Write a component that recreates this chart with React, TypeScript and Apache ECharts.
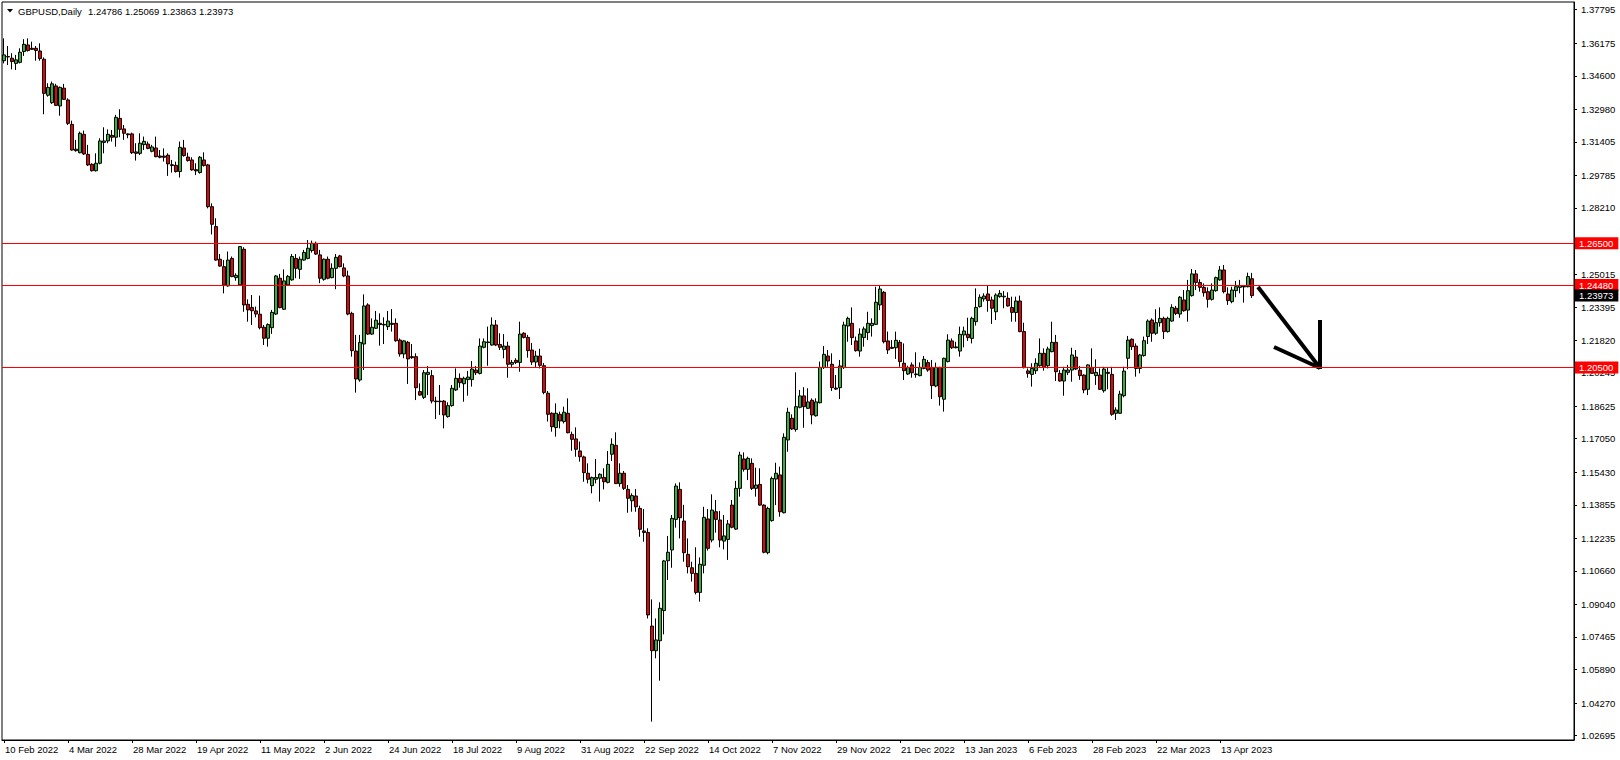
import React, { useEffect, useRef } from "react";
import * as echarts from "echarts";

// ---------- DATA ----------
const SYMBOL = "GBPUSD,Daily";
const LAST_OHLC = ["1.24786", "1.25069", "1.23863", "1.23973"];
const FIRST_DAY = "2022-02-10";
const SKIPPED_DAYS = ["2022-12-26"];
const LABEL_EVERY = 16;
const FUTURE_SLOTS = 80;
const MONTHS = ["Jan", "Feb", "Mar", "Apr", "May", "Jun", "Jul", "Aug", "Sep", "Oct", "Nov", "Dec"];

// candles: [open, close, low, high]
const feb_may2022 = [
  [1.3533, 1.3561, 1.3520, 1.3641], [1.3553, 1.3551, 1.3512, 1.3604], [1.3545, 1.3529, 1.3491, 1.3569],
  [1.3520, 1.3537, 1.3488, 1.3561], [1.3525, 1.3574, 1.3520, 1.3593], [1.3577, 1.3612, 1.3556, 1.3637],
  [1.3609, 1.3582, 1.3577, 1.3641], [1.3593, 1.3588, 1.3585, 1.3625], [1.3593, 1.3582, 1.3533, 1.3604],
  [1.3580, 1.3543, 1.3533, 1.3617], [1.3540, 1.3375, 1.3274, 1.3549], [1.3366, 1.3404, 1.3359, 1.3424],
  [1.3330, 1.3421, 1.3324, 1.3432], [1.3411, 1.3317, 1.3314, 1.3421], [1.3314, 1.3404, 1.3267, 1.3408],
  [1.3400, 1.3346, 1.3343, 1.3421], [1.3343, 1.3230, 1.3222, 1.3351], [1.3225, 1.3101, 1.3098, 1.3243],
  [1.3105, 1.3098, 1.3093, 1.3150], [1.3088, 1.3182, 1.3085, 1.3190], [1.3177, 1.3082, 1.3077, 1.3195],
  [1.3080, 1.3029, 1.3024, 1.3126], [1.3032, 1.3001, 1.2997, 1.3037], [1.3001, 1.3037, 1.2997, 1.3085],
  [1.3037, 1.3145, 1.3032, 1.3158], [1.3138, 1.3145, 1.3085, 1.3211], [1.3145, 1.3177, 1.3134, 1.3201],
  [1.3172, 1.3163, 1.3142, 1.3198], [1.3163, 1.3259, 1.3117, 1.3271], [1.3254, 1.3201, 1.3163, 1.3298],
  [1.3203, 1.3182, 1.3150, 1.3222], [1.3179, 1.3175, 1.3158, 1.3182], [1.3179, 1.3088, 1.3082, 1.3185],
  [1.3092, 1.3085, 1.3050, 1.3134], [1.3085, 1.3134, 1.3077, 1.3182], [1.3127, 1.3143, 1.3101, 1.3166],
  [1.3130, 1.3109, 1.3105, 1.3142], [1.3095, 1.3116, 1.3090, 1.3126], [1.3111, 1.3069, 1.3066, 1.3166],
  [1.3072, 1.3066, 1.3061, 1.3101], [1.3072, 1.3066, 1.3045, 1.3109], [1.3076, 1.3034, 1.2976, 1.3085],
  [1.3030, 1.3026, 1.2992, 1.3053], [1.3027, 1.2997, 1.2992, 1.3045], [1.2997, 1.3114, 1.2968, 1.3142],
  [1.3111, 1.3074, 1.3069, 1.3150], [1.3067, 1.3050, 1.3045, 1.3088], [1.3053, 1.3005, 1.3001, 1.3066],
  [1.3006, 1.3000, 1.2980, 1.3037], [1.2992, 1.3066, 1.2987, 1.3072], [1.3053, 1.3026, 1.3021, 1.3090],
  [1.3029, 1.2827, 1.2819, 1.3034], [1.2827, 1.2742, 1.2693, 1.2843], [1.2731, 1.2569, 1.2566, 1.2771],
  [1.2573, 1.2540, 1.2537, 1.2598], [1.2537, 1.2449, 1.2408, 1.2569], [1.2444, 1.2569, 1.2440, 1.2610],
  [1.2577, 1.2489, 1.2486, 1.2586], [1.2484, 1.2495, 1.2469, 1.2505], [1.2449, 1.2634, 1.2445, 1.2637],
];

const may_jul2022 = [
  [1.2621, 1.2352, 1.2319, 1.2631], [1.2355, 1.2328, 1.2271, 1.2379], [1.2340, 1.2324, 1.2255, 1.2400],
  [1.2323, 1.2308, 1.2292, 1.2344], [1.2307, 1.2242, 1.2234, 1.2397], [1.2244, 1.2191, 1.2158, 1.2255],
  [1.2191, 1.2257, 1.2150, 1.2263], [1.2242, 1.2316, 1.2212, 1.2328], [1.2308, 1.2492, 1.2303, 1.2497],
  [1.2481, 1.2339, 1.2336, 1.2502], [1.2331, 1.2468, 1.2328, 1.2524], [1.2449, 1.2490, 1.2445, 1.2497],
  [1.2473, 1.2586, 1.2469, 1.2598], [1.2577, 1.2529, 1.2481, 1.2598], [1.2524, 1.2573, 1.2478, 1.2586],
  [1.2569, 1.2606, 1.2566, 1.2618], [1.2577, 1.2626, 1.2573, 1.2666], [1.2615, 1.2650, 1.2605, 1.2663],
  [1.2650, 1.2598, 1.2594, 1.2658], [1.2594, 1.2481, 1.2457, 1.2618], [1.2476, 1.2573, 1.2469, 1.2577],
  [1.2573, 1.2481, 1.2476, 1.2586], [1.2484, 1.2529, 1.2481, 1.2553], [1.2529, 1.2582, 1.2428, 1.2598],
  [1.2589, 1.2537, 1.2534, 1.2594], [1.2531, 1.2492, 1.2486, 1.2553], [1.2492, 1.2308, 1.2302, 1.2518],
  [1.2311, 1.2131, 1.2102, 1.2319], [1.2129, 1.1994, 1.1928, 1.2207], [1.1989, 1.2171, 1.1981, 1.2207],
  [1.2163, 1.2347, 1.2037, 1.2403], [1.2352, 1.2211, 1.2207, 1.2360], [1.2211, 1.2244, 1.2207, 1.2287],
  [1.2239, 1.2278, 1.2236, 1.2323], [1.2263, 1.2257, 1.2155, 1.2311], [1.2258, 1.2255, 1.2163, 1.2292],
  [1.2247, 1.2274, 1.2231, 1.2323], [1.2263, 1.2258, 1.2223, 1.2332], [1.2263, 1.2179, 1.2174, 1.2287],
  [1.2182, 1.2115, 1.2102, 1.2190], [1.2115, 1.2178, 1.2094, 1.2182], [1.2171, 1.2091, 1.1970, 1.2178],
  [1.2102, 1.2097, 1.2091, 1.2163], [1.2102, 1.1952, 1.1892, 1.2118], [1.1933, 1.1916, 1.1913, 1.1973],
  [1.1905, 1.2024, 1.1897, 1.2037], [1.2016, 1.2026, 1.1916, 1.2057], [1.2010, 1.1887, 1.1876, 1.2037],
  [1.1887, 1.1884, 1.1800, 1.1908], [1.1887, 1.1884, 1.1820, 1.1965], [1.1887, 1.1820, 1.1755, 1.1892],
  [1.1812, 1.1865, 1.1807, 1.1881], [1.1865, 1.1949, 1.1860, 1.1965], [1.1941, 1.1997, 1.1936, 1.2045],
  [1.1997, 1.1976, 1.1952, 1.2021], [1.1971, 1.1997, 1.1884, 1.2005], [1.1991, 1.2003, 1.1913, 1.2033],
  [1.1991, 1.2042, 1.1957, 1.2081], [1.2037, 1.2024, 1.2013, 1.2057], [1.2021, 1.2153, 1.2016, 1.2190],
];

const aug_oct2022 = [
  [1.2147, 1.2174, 1.2142, 1.2190], [1.2173, 1.2170, 1.2058, 1.2247], [1.2158, 1.2255, 1.2155, 1.2292],
  [1.2255, 1.2158, 1.2153, 1.2279], [1.2161, 1.2147, 1.2134, 1.2215], [1.2137, 1.2153, 1.2094, 1.2211],
  [1.2153, 1.2065, 1.2000, 1.2174], [1.2065, 1.2074, 1.2049, 1.2086], [1.2084, 1.2074, 1.2066, 1.2094],
  [1.2074, 1.2211, 1.2029, 1.2271], [1.2215, 1.2195, 1.2190, 1.2220], [1.2195, 1.2131, 1.2097, 1.2207],
  [1.2134, 1.2076, 1.2062, 1.2168], [1.2076, 1.2105, 1.2050, 1.2130], [1.2105, 1.2060, 1.2045, 1.2140],
  [1.2058, 1.1929, 1.1920, 1.2071], [1.1925, 1.1823, 1.1788, 1.1936], [1.1828, 1.1763, 1.1739, 1.1833],
  [1.1759, 1.1828, 1.1715, 1.1876], [1.1823, 1.1791, 1.1755, 1.1836], [1.1788, 1.1833, 1.1779, 1.1860],
  [1.1828, 1.1734, 1.1731, 1.1900], [1.1726, 1.1702, 1.1647, 1.1739], [1.1704, 1.1654, 1.1618, 1.1760],
  [1.1646, 1.1618, 1.1594, 1.1691], [1.1617, 1.1541, 1.1497, 1.1623], [1.1538, 1.1509, 1.1489, 1.1586],
  [1.1478, 1.1517, 1.1441, 1.1522], [1.1509, 1.1518, 1.1489, 1.1607], [1.1514, 1.1533, 1.1401, 1.1538],
  [1.1518, 1.1497, 1.1460, 1.1562], [1.1494, 1.1581, 1.1489, 1.1646], [1.1630, 1.1678, 1.1597, 1.1707],
  [1.1673, 1.1488, 1.1486, 1.1736], [1.1488, 1.1538, 1.1473, 1.1586], [1.1538, 1.1465, 1.1457, 1.1549],
  [1.1460, 1.1417, 1.1347, 1.1481], [1.1405, 1.1430, 1.1352, 1.1441], [1.1428, 1.1376, 1.1352, 1.1462],
  [1.1368, 1.1267, 1.1231, 1.1381], [1.1259, 1.1252, 1.1207, 1.1365], [1.1252, 1.0853, 1.0836, 1.1272],
  [1.0799, 1.0680, 1.0337, 1.0928], [1.0680, 1.0732, 1.0643, 1.0836], [1.0728, 1.0885, 1.0535, 1.0914],
  [1.0874, 1.1114, 1.0759, 1.1119], [1.1115, 1.1156, 1.1022, 1.1235], [1.1167, 1.1320, 1.1081, 1.1336],
  [1.1315, 1.1476, 1.1275, 1.1489], [1.1460, 1.1323, 1.1223, 1.1494], [1.1307, 1.1154, 1.1110, 1.1385],
  [1.1146, 1.1086, 1.1054, 1.1223], [1.1081, 1.1054, 1.1014, 1.1110], [1.1054, 1.0962, 1.0952, 1.1180],
  [1.0962, 1.1098, 1.0917, 1.1131], [1.1093, 1.1325, 1.1054, 1.1376], [1.1317, 1.1175, 1.1164, 1.1365],
  [1.1215, 1.1360, 1.1204, 1.1436], [1.1352, 1.1315, 1.1251, 1.1409], [1.1312, 1.1215, 1.1180, 1.1356],
];

const oct2022_jan2023 = [
  [1.1210, 1.1235, 1.1170, 1.1336], [1.1218, 1.1293, 1.1119, 1.1312], [1.1384, 1.1277, 1.1272, 1.1409],
  [1.1268, 1.1465, 1.1264, 1.1501], [1.1465, 1.1626, 1.1425, 1.1642], [1.1607, 1.1557, 1.1546, 1.1639],
  [1.1557, 1.1610, 1.1505, 1.1618], [1.1586, 1.1465, 1.1457, 1.1610], [1.1465, 1.1481, 1.1425, 1.1565],
  [1.1484, 1.1384, 1.1381, 1.1562], [1.1384, 1.1156, 1.1151, 1.1388], [1.1154, 1.1368, 1.1146, 1.1376],
  [1.1309, 1.1513, 1.1304, 1.1522], [1.1510, 1.1538, 1.1384, 1.1589], [1.1530, 1.1352, 1.1328, 1.1570],
  [1.1347, 1.1712, 1.1344, 1.1731], [1.1699, 1.1833, 1.1642, 1.1855], [1.1804, 1.1752, 1.1747, 1.1823],
  [1.1750, 1.1860, 1.1739, 1.2026], [1.1857, 1.1912, 1.1852, 1.1941], [1.1912, 1.1860, 1.1758, 1.1954],
  [1.1852, 1.1883, 1.1849, 1.1949], [1.1891, 1.1820, 1.1775, 1.1900], [1.1816, 1.1883, 1.1812, 1.1900],
  [1.1879, 1.2050, 1.1876, 1.2078], [1.2049, 1.2113, 1.2042, 1.2153], [1.2105, 1.2081, 1.2053, 1.2134],
  [1.2065, 1.1952, 1.1936, 1.2118], [1.1950, 1.1945, 1.1941, 1.2013], [1.1952, 1.2057, 1.1897, 1.2086],
  [1.2049, 1.2255, 1.2042, 1.2271], [1.2250, 1.2287, 1.2174, 1.2295], [1.2263, 1.2194, 1.2158, 1.2340],
  [1.2178, 1.2131, 1.2126, 1.2199], [1.2129, 1.2211, 1.2102, 1.2239], [1.2194, 1.2236, 1.2150, 1.2247],
  [1.2218, 1.2263, 1.2182, 1.2319], [1.2252, 1.2263, 1.2199, 1.2287], [1.2258, 1.2365, 1.2255, 1.2440],
  [1.2352, 1.2429, 1.2327, 1.2445], [1.2413, 1.2174, 1.2166, 1.2419], [1.2178, 1.2134, 1.2115, 1.2223],
  [1.2147, 1.2142, 1.2139, 1.2182], [1.2145, 1.2181, 1.2091, 1.2223], [1.2171, 1.2078, 1.2053, 1.2182],
  [1.2070, 1.2034, 1.1989, 1.2166], [1.2018, 1.2049, 1.2013, 1.2058], [1.2062, 1.2024, 1.2000, 1.2074],
  [1.2018, 1.2015, 1.2000, 1.2123], [1.2010, 1.2050, 1.2007, 1.2074], [1.2045, 1.2089, 1.2041, 1.2105],
  [1.2073, 1.2037, 1.2029, 1.2086], [1.2050, 1.1962, 1.1897, 1.2086], [1.1960, 1.2050, 1.1954, 1.2073],
  [1.2050, 1.1908, 1.1865, 1.2053], [1.1896, 1.2094, 1.1836, 1.2097], [1.2078, 1.2182, 1.2074, 1.2210],
  [1.2178, 1.2145, 1.2139, 1.2190], [1.2149, 1.2145, 1.2142, 1.2174], [1.2129, 1.2210, 1.2102, 1.2247],
];

const jan_apr2023 = [
  [1.2207, 1.2226, 1.2147, 1.2247], [1.2210, 1.2194, 1.2178, 1.2290], [1.2190, 1.2287, 1.2166, 1.2295],
  [1.2271, 1.2340, 1.2252, 1.2432], [1.2344, 1.2389, 1.2339, 1.2403], [1.2381, 1.2395, 1.2368, 1.2408],
  [1.2405, 1.2373, 1.2319, 1.2445], [1.2376, 1.2336, 1.2260, 1.2392], [1.2319, 1.2400, 1.2279, 1.2408],
  [1.2392, 1.2408, 1.2387, 1.2424], [1.2394, 1.2391, 1.2336, 1.2419], [1.2384, 1.2347, 1.2344, 1.2413],
  [1.2340, 1.2316, 1.2271, 1.2392], [1.2315, 1.2371, 1.2271, 1.2392], [1.2371, 1.2223, 1.2220, 1.2397],
  [1.2223, 1.2049, 1.2045, 1.2266], [1.2033, 1.2021, 1.2000, 1.2045], [1.2016, 1.2045, 1.1957, 1.2070],
  [1.2034, 1.2070, 1.2018, 1.2094], [1.2058, 1.2118, 1.2053, 1.2190], [1.2118, 1.2050, 1.2034, 1.2142],
  [1.2058, 1.2139, 1.2045, 1.2150], [1.2126, 1.2171, 1.2123, 1.2271], [1.2171, 1.2029, 1.1984, 1.2207],
  [1.2021, 1.1984, 1.1981, 1.2037], [1.1984, 1.2037, 1.1913, 1.2053], [1.2026, 1.2037, 1.2013, 1.2062],
  [1.2037, 1.2110, 1.1981, 1.2145], [1.2100, 1.2042, 1.2037, 1.2134], [1.2036, 1.2010, 1.1990, 1.2057],
  [1.2013, 1.1941, 1.1925, 1.2016], [1.1944, 1.2062, 1.1916, 1.2065], [1.2050, 1.2021, 1.2018, 1.2142],
  [1.2010, 1.2026, 1.1965, 1.2089], [1.2013, 1.1944, 1.1941, 1.2045], [1.1937, 1.2042, 1.1928, 1.2053],
  [1.2026, 1.2021, 1.1944, 1.2050], [1.2016, 1.1823, 1.1816, 1.2053], [1.1828, 1.1844, 1.1796, 1.1857],
  [1.1828, 1.1921, 1.1825, 1.1937], [1.1913, 1.2032, 1.1905, 1.2053], [1.2094, 1.2182, 1.2041, 1.2202],
  [1.2186, 1.2150, 1.2134, 1.2190], [1.2153, 1.2045, 1.2005, 1.2166], [1.2045, 1.2110, 1.2021, 1.2115],
  [1.2107, 1.2179, 1.2102, 1.2199], [1.2199, 1.2274, 1.2163, 1.2282], [1.2279, 1.2215, 1.2174, 1.2287],
  [1.2215, 1.2266, 1.2207, 1.2331], [1.2266, 1.2287, 1.2247, 1.2340], [1.2287, 1.2223, 1.2187, 1.2295],
  [1.2223, 1.2287, 1.2218, 1.2295], [1.2274, 1.2340, 1.2271, 1.2355], [1.2336, 1.2311, 1.2303, 1.2347],
  [1.2308, 1.2389, 1.2290, 1.2395], [1.2376, 1.2324, 1.2319, 1.2424], [1.2327, 1.2421, 1.2271, 1.2473],
  [1.2397, 1.2502, 1.2392, 1.2526], [1.2502, 1.2461, 1.2424, 1.2521], [1.2460, 1.2437, 1.2416, 1.2476],
  [1.2437, 1.2411, 1.2392, 1.2456], [1.2416, 1.2379, 1.2339, 1.2437], [1.2379, 1.2424, 1.2373, 1.2456],
  [1.2421, 1.2484, 1.2416, 1.2489], [1.2473, 1.2521, 1.2469, 1.2540], [1.2521, 1.2416, 1.2408, 1.2545],
  [1.2405, 1.2373, 1.2352, 1.2437], [1.2368, 1.2424, 1.2360, 1.2440], [1.2421, 1.2440, 1.2389, 1.2468],
  [1.2437, 1.2445, 1.2408, 1.2473], [1.2442, 1.2439, 1.2363, 1.2448], [1.2440, 1.2489, 1.2437, 1.2508],
  [1.24786, 1.23973, 1.23863, 1.25069],
];

const Y_TICKS = [
  1.37795, 1.36175, 1.346, 1.3298, 1.31405, 1.29785, 1.2821, 1.2659, 1.25015, 1.23395, 1.2182, 1.20245,
  1.18625, 1.1705, 1.1543, 1.13855, 1.12235, 1.1066, 1.0904, 1.07465, 1.0589, 1.0427, 1.02695,
];
const Y_TICKS_HIDDEN = [1.2659];
const Y_MIN = 1.02482;
const Y_MAX = 1.38168;

const LEVELS = [1.265, 1.2448, 1.205];
const BID = 1.23973;

// ---------- STYLE ----------
const FONT = '"Liberation Sans", Arial, sans-serif';
const FS = 9.5;
const GREEN = "#2fb52f";
const RED = "#ee0000";

function buildDays(count: number): string[] {
  const out: string[] = [];
  const [y, m, d] = FIRST_DAY.split("-").map(Number);
  const cur = new Date(Date.UTC(y, m - 1, d));
  while (out.length < count) {
    const wd = cur.getUTCDay();
    const iso = cur.toISOString().slice(0, 10);
    if (wd !== 0 && wd !== 6 && !SKIPPED_DAYS.includes(iso)) {
      out.push(`${cur.getUTCDate()} ${MONTHS[cur.getUTCMonth()]} ${cur.getUTCFullYear()}`);
    }
    cur.setUTCDate(cur.getUTCDate() + 1);
  }
  return out;
}

export default function App() {
  const ref = useRef<HTMLDivElement>(null);
  useEffect(() => {
    if (!ref.current) return;
    const chart = echarts.init(ref.current, null, { renderer: "svg" });
    const candles = [...feb_may2022, ...may_jul2022, ...aug_oct2022, ...oct2022_jan2023, ...jan_apr2023];
    const days = buildDays(candles.length);
    const cats = [...days, ...new Array(FUTURE_SLOTS).fill("")];
    const showIdx = (i: number) => cats[i] !== "" && i % LABEL_EVERY === 0;

    const levelLabel = (v: number, bg: string) => ({
      show: true,
      position: "end",
      distance: 1,
      formatter: () => v.toFixed(5),
      color: "#fff",
      backgroundColor: bg,
      padding: [1, 5, 0, 4],
      fontFamily: FONT,
      fontSize: FS,
      lineHeight: 11,
    });

    chart.setOption({
      animation: false,
      backgroundColor: "#fff",
      grid: { left: 2, right: 46, top: 2, bottom: 20, show: true, borderColor: "#000", borderWidth: 1, backgroundColor: "#fff" },
      xAxis: {
        type: "category",
        data: cats,
        boundaryGap: true,
        axisLine: { show: true, lineStyle: { color: "#000", width: 1 } },
        axisTick: { show: true, alignWithLabel: true, interval: (i: number) => showIdx(i), length: 3, lineStyle: { color: "#000" } },
        axisLabel: {
          interval: (i: number) => showIdx(i),
          align: "left",
          margin: 4,
          padding: [0, 0, 0, 1],
          color: "#000",
          fontFamily: FONT,
          fontSize: FS,
        },
        splitLine: { show: false },
      },
      yAxis: {
        type: "value",
        position: "right",
        min: Y_MIN,
        max: Y_MAX,
        scale: true,
        axisLine: { show: true, lineStyle: { color: "#000", width: 1 } },
        axisTick: { show: true, length: 3, customValues: Y_TICKS, lineStyle: { color: "#000" } },
        axisLabel: {
          customValues: Y_TICKS.filter((v) => !Y_TICKS_HIDDEN.includes(v)),
          formatter: (v: number) => v.toFixed(5),
          margin: 7,
          color: "#000",
          fontFamily: FONT,
          fontSize: FS,
        },
        splitLine: { show: false },
      },
      graphic: [
        { type: "polygon", shape: { points: [[7, 9], [13, 9], [10, 12.5]] }, style: { fill: "#000" } },
        { type: "text", x: 18, y: 11, style: { text: SYMBOL, fill: "#000", font: `${FS}px ${FONT}`, verticalAlign: "middle" } },
        { type: "text", x: 88, y: 11, style: { text: LAST_OHLC.join(" "), fill: "#000", font: `${FS}px ${FONT}`, verticalAlign: "middle" } },
        { type: "polyline", shape: { points: [[1258, 287], [1320, 368]] }, style: { stroke: "#000", lineWidth: 4, fill: null } },
        { type: "polyline", shape: { points: [[1320, 320], [1320, 369]] }, style: { stroke: "#000", lineWidth: 4, fill: null } },
        { type: "polyline", shape: { points: [[1274, 347], [1320, 368]] }, style: { stroke: "#000", lineWidth: 4, fill: null } },
      ],
      series: [
        {
          type: "candlestick",
          data: candles,
          barWidth: 3,
          itemStyle: {
            color: GREEN,
            color0: RED,
            borderColor: "#000",
            borderColor0: "#000",
            borderColorDoji: "#000",
            borderWidth: 1,
          },
          markLine: {
            silent: true,
            symbol: "none",
            precision: 5,
            animation: false,
            data: [
              ...LEVELS.map((v) => ({ yAxis: v, lineStyle: { color: "#ff0000", width: 1, type: "solid" }, label: levelLabel(v, "#ff0000") })),
              { yAxis: BID, lineStyle: { color: "rgba(0,0,0,0)", width: 1, type: "solid" }, label: levelLabel(BID, "#000") },
            ],
          },
        },
      ],
    });
    return () => chart.dispose();
  }, []);
  return <div ref={ref} style={{ position: "fixed", left: 0, top: 0, width: 1620, height: 760, background: "#fff" }} />;
}
